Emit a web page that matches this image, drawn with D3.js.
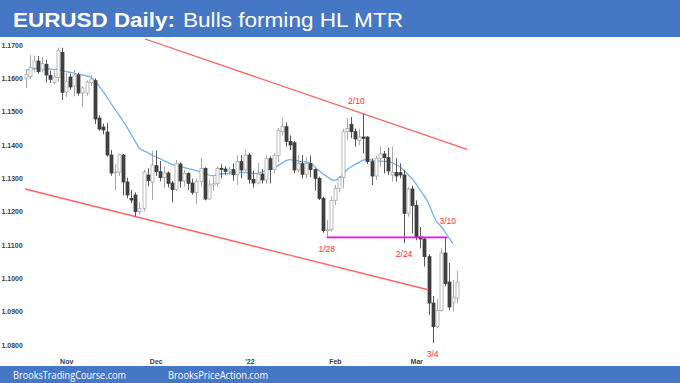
<!DOCTYPE html>
<html>
<head>
<meta charset="utf-8">
<script src="https://cdn.jsdelivr.net/npm/d3@7"></script>
<style>
  html, body { margin: 0; padding: 0; background: #fff; }
  svg { display: block; }
</style>
</head>
<body>
<div id="chart"></div>
<script>
// EURUSD daily bars, 2021-10-18 .. 2022-03-15 (weekdays)
const firstDay = new Date(2021, 9, 18);
const lastDay = new Date(2022, 2, 15);

const opens = [
  1.1601, 1.1605, 1.1631, 1.1652, 1.1625, 1.1642, 1.1609, 1.1588, 1.1602, 1.1678,
  1.1559, 1.1604, 1.1577, 1.1610, 1.1556, 1.1556, 1.1587, 1.1593, 1.1481, 1.1454,
  1.1439, 1.1370, 1.1318, 1.1319, 1.1370, 1.1289, 1.1240, 1.1250, 1.1200, 1.1210,
  1.1310, 1.1289, 1.1338, 1.1320, 1.1302, 1.1316, 1.1286, 1.1267, 1.1343, 1.1292,
  1.1315, 1.1286, 1.1258, 1.1290, 1.1330, 1.1238, 1.1280, 1.1284, 1.1330, 1.1328,
  1.1321, 1.1326, 1.1311, 1.1350, 1.1325, 1.1370, 1.1297, 1.1286, 1.1313, 1.1295,
  1.1359, 1.1326, 1.1368, 1.1440, 1.1455, 1.1411, 1.1407, 1.1325, 1.1344, 1.1312,
  1.1344, 1.1326, 1.1300, 1.1240, 1.1143, 1.1146, 1.1234, 1.1270, 1.1302, 1.1440,
  1.1462, 1.1440, 1.1413, 1.1424, 1.1424, 1.1350, 1.1307, 1.1359, 1.1373, 1.1362,
  1.1310, 1.1318, 1.1317, 1.1310, 1.1195, 1.1268, 1.1219, 1.1124, 1.1118, 1.1065,
  1.0926, 1.0855, 1.0904, 1.1076, 1.0989, 1.0926, 1.0941
];
const highs = [
  1.1625, 1.1669, 1.1668, 1.1667, 1.1665, 1.1655, 1.1623, 1.1624, 1.1692, 1.1692,
  1.1616, 1.1614, 1.1625, 1.1617, 1.1577, 1.1594, 1.1609, 1.1600, 1.1490, 1.1464,
  1.1466, 1.1385, 1.1343, 1.1374, 1.1373, 1.1302, 1.1265, 1.1258, 1.1229, 1.1326,
  1.1330, 1.1383, 1.1383, 1.1352, 1.1335, 1.1321, 1.1292, 1.1355, 1.1348, 1.1325,
  1.1318, 1.1299, 1.1300, 1.1360, 1.1333, 1.1296, 1.1310, 1.1336, 1.1342, 1.1336,
  1.1334, 1.1345, 1.1369, 1.1370, 1.1386, 1.1376, 1.1323, 1.1346, 1.1328, 1.1369,
  1.1366, 1.1375, 1.1451, 1.1482, 1.1468, 1.1429, 1.1412, 1.1369, 1.1370, 1.1363,
  1.1368, 1.1330, 1.1305, 1.1245, 1.1175, 1.1246, 1.1280, 1.1307, 1.1449, 1.1481,
  1.1484, 1.1450, 1.1449, 1.1495, 1.1426, 1.1360, 1.1367, 1.1395, 1.1382, 1.1392,
  1.1395, 1.1360, 1.1345, 1.1325, 1.1274, 1.1278, 1.1234, 1.1154, 1.1124, 1.1073,
  1.0947, 1.0938, 1.1090, 1.1121, 1.1046, 1.0995, 1.1022
];
const lows = [
  1.1571, 1.1598, 1.1618, 1.1615, 1.1618, 1.1588, 1.1586, 1.1582, 1.1590, 1.1535,
  1.1544, 1.1565, 1.1546, 1.1548, 1.1514, 1.1548, 1.1577, 1.1463, 1.1443, 1.1432,
  1.1365, 1.1308, 1.1264, 1.1308, 1.1249, 1.1240, 1.1226, 1.1186, 1.1191, 1.1201,
  1.1276, 1.1235, 1.1307, 1.1291, 1.1271, 1.1273, 1.1228, 1.1262, 1.1272, 1.1275,
  1.1265, 1.1251, 1.1222, 1.1275, 1.1234, 1.1236, 1.1262, 1.1275, 1.1300, 1.1310,
  1.1310, 1.1293, 1.1280, 1.1300, 1.1320, 1.1284, 1.1272, 1.1282, 1.1285, 1.1284,
  1.1285, 1.1315, 1.1348, 1.1428, 1.1395, 1.1385, 1.1315, 1.1318, 1.1300, 1.1300,
  1.1304, 1.1263, 1.1235, 1.1137, 1.1121, 1.1140, 1.1220, 1.1258, 1.1270, 1.1415,
  1.1420, 1.1395, 1.1400, 1.1375, 1.1343, 1.1280, 1.1295, 1.1335, 1.1315, 1.1310,
  1.1290, 1.1290, 1.1300, 1.1106, 1.1185, 1.1135, 1.1114, 1.1090, 1.1035, 1.0890,
  1.0806, 1.0850, 1.0900, 1.0976, 1.0904, 1.0900, 1.0925
];
const closes = [
  1.1611, 1.1633, 1.1652, 1.1620, 1.1644, 1.1610, 1.1597, 1.1604, 1.1683, 1.1558,
  1.1590, 1.1574, 1.1610, 1.1556, 1.1571, 1.1589, 1.1598, 1.1478, 1.1448, 1.1445,
  1.1370, 1.1316, 1.1319, 1.1371, 1.1289, 1.1250, 1.1235, 1.1200, 1.1210, 1.1319,
  1.1293, 1.1340, 1.1320, 1.1302, 1.1316, 1.1285, 1.1266, 1.1344, 1.1292, 1.1315,
  1.1285, 1.1258, 1.1290, 1.1330, 1.1238, 1.1280, 1.1284, 1.1330, 1.1328, 1.1321,
  1.1326, 1.1311, 1.1350, 1.1325, 1.1370, 1.1297, 1.1286, 1.1313, 1.1295, 1.1359,
  1.1326, 1.1368, 1.1444, 1.1455, 1.1411, 1.1400, 1.1325, 1.1344, 1.1312, 1.1344,
  1.1326, 1.1300, 1.1240, 1.1143, 1.1146, 1.1234, 1.1270, 1.1302, 1.1440, 1.1450,
  1.1440, 1.1418, 1.1424, 1.1420, 1.1350, 1.1307, 1.1359, 1.1373, 1.1362, 1.1322,
  1.1318, 1.1307, 1.1310, 1.1195, 1.1268, 1.1219, 1.1124, 1.1118, 1.1065, 1.0926,
  1.0855, 1.0904, 1.1076, 1.0984, 1.0914, 1.0944, 1.0989
];

// 20 EMA (last bar has no value drawn)
const ema = [
  1.1625, 1.1627, 1.1628, 1.1629, 1.1630, 1.1629, 1.1628, 1.1627, 1.1627, 1.1623,
  1.1620, 1.1618, 1.1615, 1.1612, 1.1610, 1.1607, 1.1604, 1.1594, 1.1578, 1.1561,
  1.1544, 1.1525, 1.1507, 1.1489, 1.1471, 1.1452, 1.1431, 1.1410, 1.1390, 1.1383,
  1.1377, 1.1370, 1.1364, 1.1359, 1.1353, 1.1347, 1.1342, 1.1338, 1.1335, 1.1332,
  1.1329, 1.1326, 1.1323, 1.1319, 1.1315, 1.1310, 1.1308, 1.1311, 1.1313, 1.1314,
  1.1315, 1.1317, 1.1318, 1.1318, 1.1317, 1.1316, 1.1315, 1.1315, 1.1319, 1.1323,
  1.1327, 1.1331, 1.1338, 1.1346, 1.1353, 1.1356, 1.1354, 1.1352, 1.1350, 1.1349,
  1.1346, 1.1335, 1.1324, 1.1314, 1.1306, 1.1297, 1.1294, 1.1301, 1.1311, 1.1326,
  1.1334, 1.1342, 1.1348, 1.1355, 1.1356, 1.1355, 1.1353, 1.1352, 1.1351, 1.1350,
  1.1347, 1.1341, 1.1335, 1.1323, 1.1311, 1.1299, 1.1282, 1.1264, 1.1246, 1.1225,
  1.1195, 1.1170, 1.1157, 1.1140, 1.1122, 1.1104, null
];

const priceTicks = [1.08, 1.09, 1.10, 1.11, 1.12, 1.13, 1.14, 1.15, 1.16, 1.17];
const monthStarts = ['2021-11-01', '2021-12-01', '2022-01-03', '2022-02-01', '2022-03-01'];
const monthLabels = ['Nov', 'Dec', "'22", 'Feb', 'Mar'];

// channel lines as [bar index, price] pairs
const upperLine = [[29.36, 1.1718], [108.45, 1.1387]];
const lowerLine = [[-0.12, 1.1268], [98.63, 1.09665]];
const hlLine = [[74, 1.1123], [103.6, 1.1123]];

const labelDates = ['2022-02-10', '2022-01-28', '2022-02-24', '2022-03-10', '2022-03-07'];
const labelTexts = ['2/10', '1/28', '2/24', '3/10', '3/4'];
const labelSides = ['high', 'low', 'low', 'high', 'low'];

const W = 680, H = 383;
const fmt = d3.timeFormat('%Y-%m-%d');
const dates = d3.timeDay.range(firstDay, d3.timeDay.offset(lastDay, 1))
  .filter(d => d.getDay() !== 0 && d.getDay() !== 6);
const idx = s => dates.findIndex(d => fmt(d) === s);

const bars = dates.map((d, i) => ({
  i, date: d, o: opens[i], h: highs[i], l: lows[i], c: closes[i]
}));

const svg = d3.select('#chart').append('svg')
  .attr('width', W)
  .attr('height', H);

const x = d3.scaleLinear()
  .domain([0, dates.length - 1])
  .range([25.5, 457]);

const y = d3.scaleLinear()
  .domain([1.08, 1.17])
  .range([345, 45]);

// price labels on the left
svg.append('g')
  .attr('transform', 'translate(1.5,0)')
  .call(d3.axisRight(y).tickValues(priceTicks).tickFormat(d3.format('.4f')).tickSize(0).tickPadding(0))
  .call(g => g.select('.domain').remove())
  .selectAll('text')
  .attr('font-family', 'Liberation Sans, Arial, sans-serif')
  .attr('font-size', 7)
  .attr('font-weight', 'bold')
  .attr('fill', '#404040');

// month labels
svg.append('g')
  .attr('transform', 'translate(0,359)')
  .call(d3.axisBottom(x)
    .tickValues(monthStarts.map(idx))
    .tickFormat((d, k) => monthLabels[k])
    .tickSize(0).tickPadding(0))
  .call(g => g.select('.domain').remove())
  .selectAll('text')
  .attr('font-family', 'Liberation Sans, Arial, sans-serif')
  .attr('font-size', 7)
  .attr('font-weight', 'bold')
  .attr('fill', '#404040');

const line = d3.line()
  .x(d => x(d[0]))
  .y(d => y(d[1]));

// red channel lines
[upperLine, lowerLine].forEach(pts => {
  svg.append('path')
    .attr('d', line(pts))
    .attr('fill', 'none')
    .attr('stroke', '#ff6161')
    .attr('stroke-width', 1.3);
});

// EMA
const emaLine = d3.line()
  .defined(d => d[1] !== null)
  .x(d => x(d[0]))
  .y(d => y(d[1]))
  .curve(d3.curveMonotoneX);

svg.append('path')
  .attr('d', emaLine(ema.map((v, i) => [i, v])))
  .attr('fill', 'none')
  .attr('stroke', '#6fb4f2')
  .attr('stroke-width', 1.3);

// candles
const bw = 3;
const candles = svg.append('g').selectAll('g')
  .data(bars)
  .enter()
  .append('g');

candles.append('line')
  .attr('x1', d => Math.round(x(d.i)) + 0.5)
  .attr('x2', d => Math.round(x(d.i)) + 0.5)
  .attr('y1', d => y(d.h))
  .attr('y2', d => y(d.l))
  .attr('stroke', d => d.c >= d.o ? '#a8a8a8' : '#5a5a5a')
  .attr('stroke-width', 1);

candles.append('rect')
  .attr('x', d => Math.round(x(d.i)) - 1)
  .attr('width', bw)
  .attr('y', d => y(Math.max(d.o, d.c)))
  .attr('height', d => Math.max(1, y(Math.min(d.o, d.c)) - y(Math.max(d.o, d.c))))
  .attr('fill', d => d.c >= d.o ? '#ffffff' : '#404040')
  .attr('stroke', d => d.c >= d.o ? '#a8a8a8' : '#404040')
  .attr('stroke-width', 0.8);

// magenta HL line
svg.append('path')
  .attr('d', line(hlLine))
  .attr('stroke', '#ff00ff')
  .attr('stroke-width', 1.8)
  .attr('fill', 'none');

// date call-outs
labelTexts.forEach((t, k) => {
  const b = bars[idx(labelDates[k])];
  let yy = labelSides[k] === 'high' ? y(b.h) - 9 : y(b.l) + 14;
  if (t === '3/10') yy -= 5;
  const dx = t === '2/10' ? -7 : (t === '3/10' ? 3 : 0);
  svg.append('text')
    .attr('x', x(b.i) + dx)
    .attr('y', yy)
    .attr('text-anchor', 'middle')
    .attr('font-family', 'Liberation Sans, Arial, sans-serif')
    .attr('font-size', 8.5)
    .attr('fill', '#ff3030')
    .text(t);
});

// title band
svg.append('rect')
  .attr('x', 0).attr('y', 0)
  .attr('width', W).attr('height', 37)
  .attr('fill', '#4677c5');

const title = svg.append('text')
  .attr('x', 13)
  .attr('y', 27)
  .attr('font-family', 'Liberation Sans, Arial, sans-serif')
  .attr('font-size', 21)
  .attr('fill', '#fff');
title.append('tspan')
  .attr('font-weight', 'bold')
  .attr('textLength', 162)
  .attr('lengthAdjust', 'spacingAndGlyphs')
  .text('EURUSD Daily:');
title.append('tspan')
  .attr('x', 183)
  .attr('textLength', 220)
  .attr('lengthAdjust', 'spacingAndGlyphs')
  .text('Bulls forming HL MTR');

// footer band
svg.append('rect')
  .attr('x', 0).attr('y', 366)
  .attr('width', W).attr('height', H - 366)
  .attr('fill', '#4677c5');

const footer = [['BrooksTradingCourse.com', 13, 113], ['BrooksPriceAction.com', 168, 100]];
footer.forEach(([t, fx, fw]) => {
  svg.append('text')
    .attr('x', fx)
    .attr('y', 378.5)
    .attr('font-family', 'Open Sans, Liberation Sans, sans-serif')
    .attr('font-size', 10)
    .attr('fill', '#fff')
    .attr('textLength', fw)
    .attr('lengthAdjust', 'spacingAndGlyphs')
    .text(t);
});
</script>
</body>
</html>
